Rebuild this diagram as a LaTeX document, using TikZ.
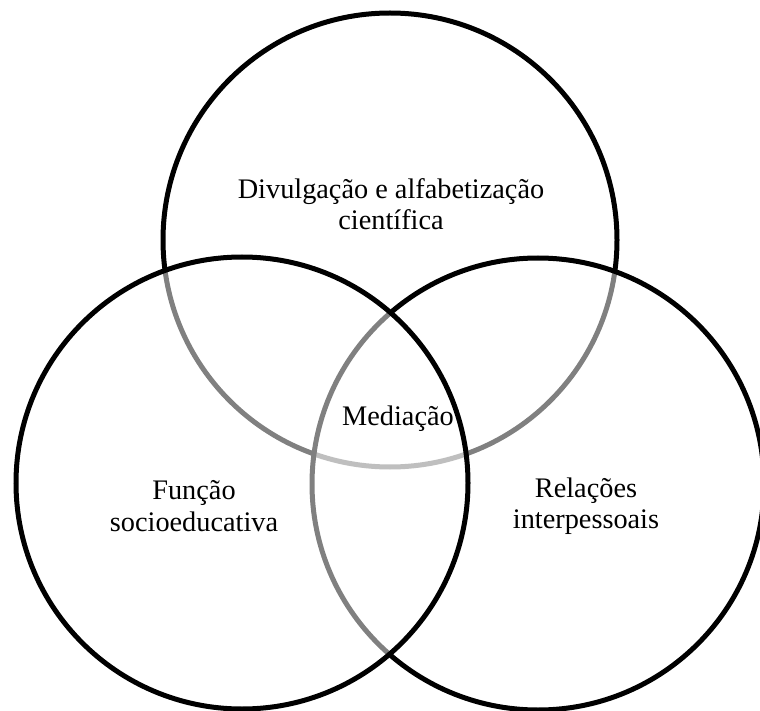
\documentclass[tikz,border=0pt]{standalone}
\usepackage{fontspec}
\setmainfont{Liberation Serif}
\usepackage{tikz}

\begin{document}
\begin{tikzpicture}[x=1pt, y=-1pt,
    venn/.style={line width=5pt, draw=black, fill=white, fill opacity=0.5},
    label/.style={align=center, font=\fontsize{28.3}{31.5}\selectfont}]
    \useasboundingbox (0,0) rectangle (760,711);

    \filldraw[venn] (390,240) circle (227pt);
    \filldraw[venn] (538,484) circle (226pt);
    \filldraw[venn] (242,483) circle (226pt);

    \node[label] (divulg) at (391,204) {Divulgação e alfabetização\\científica};
    \node[label, anchor=base] (mediacao) at (398,425) {Mediação};
    \node[label] (funcao) at (194,506) {Função\\socioeducativa};
    \node[label] (relacoes) at (586,506) {Relações\\interpessoais};
\end{tikzpicture}
\end{document}
